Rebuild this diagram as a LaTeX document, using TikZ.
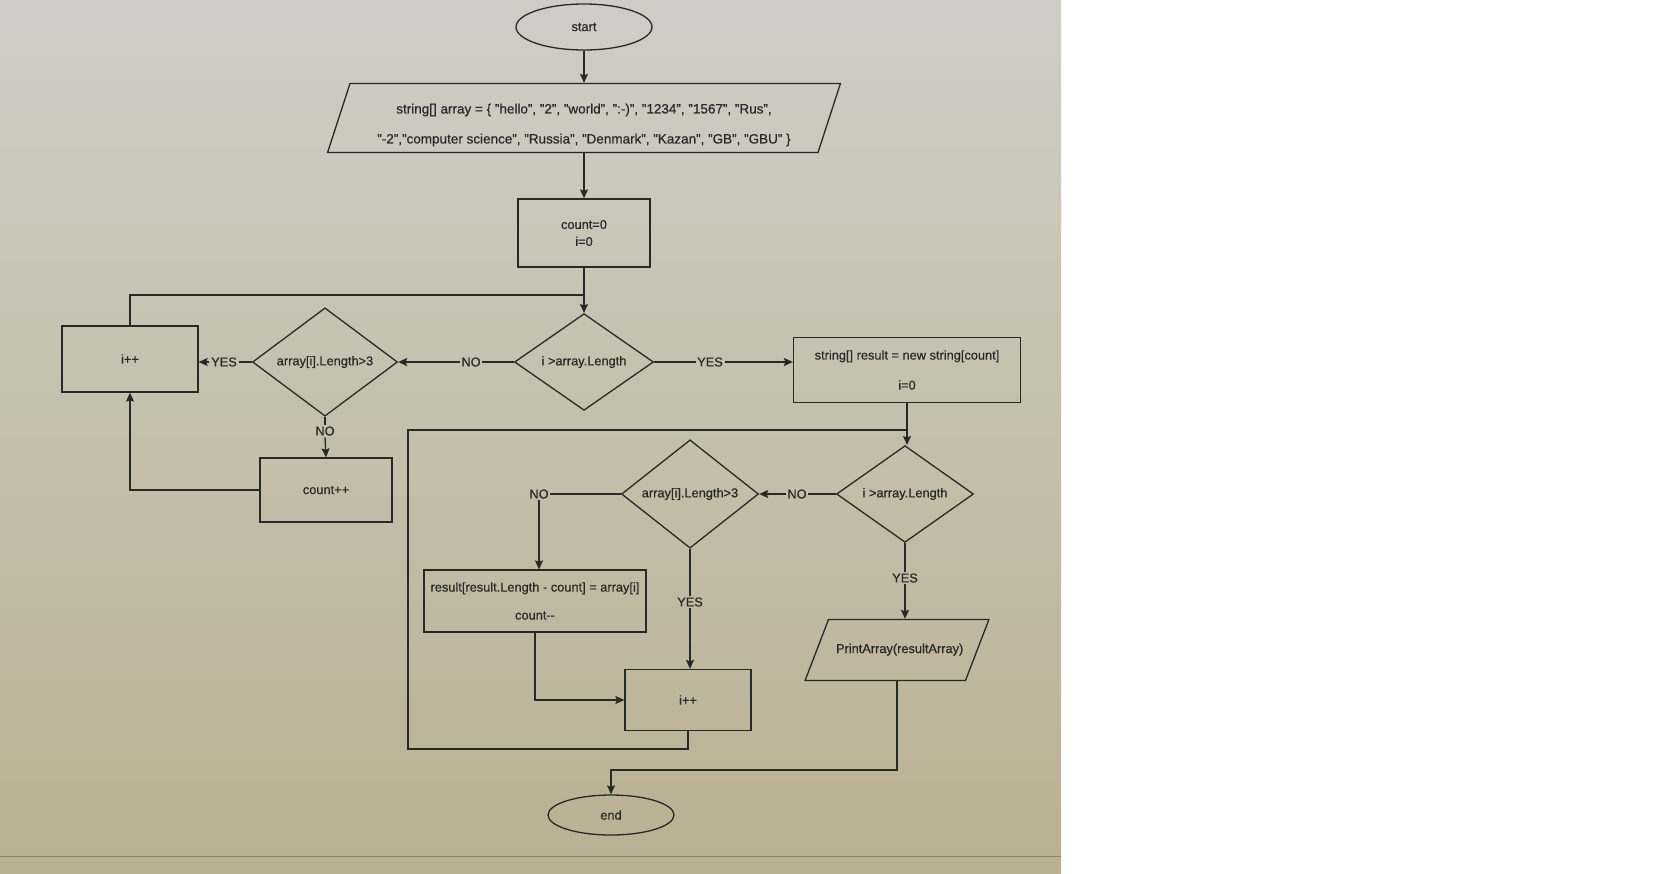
\documentclass[tikz,border=0pt]{standalone}
\usepackage{fontspec}
\setmainfont{Liberation Sans}[FakeBold=0.5]
\usetikzlibrary{shapes.geometric,arrows.meta}

\definecolor{ink}{RGB}{40,40,38}
\definecolor{paperA}{RGB}{207,206,198}
\definecolor{paperM}{RGB}{214,208,188}
\definecolor{paperB}{RGB}{186,176,146}

\begin{document}
\begin{tikzpicture}[x=1pt,y=1pt,
  every node/.style={inner sep=0pt,text=ink,font=\fontsize{12.8}{15}\selectfont},
  line/.style={draw=ink,line width=1.3pt},
  arr/.style={line,-{Stealth[length=9pt,width=8pt,inset=1.5pt]}},
  stepbox/.style={line,rectangle,align=center},
  cond/.style={line,diamond},
  term/.style={line,ellipse},
  io/.style={line,trapezium,align=center},
  lbl/.style={inner sep=1.5pt}]
\useasboundingbox (0,0) rectangle (1669,-873);
\fill[white] (0,0) rectangle (1669,-873);
\shade[top color=paperA,middle color=paperM,bottom color=paperB] (0,0) rectangle (1061,-873);
\draw[paperB!75!black,line width=0.6pt] (0,-856) -- (1061,-856);

\node[term,minimum width=136,minimum height=46] (start) at (584,-27) {start};
\node[io,trapezium left angle=72,trapezium right angle=108,inner xsep=234,inner ysep=34.5] (init) at (584,-118) {};
\node[font=\fontsize{13.5}{30}\selectfont,align=center] (initText) at (584,-125)
  {string[] array = \{ "hello", "2", "world", ":-)", "1234", "1567", "Rus",\\
   "-2","computer science", "Russia", "Denmark", "Kazan", "GB", "GBU" \}};
\node[stepbox,minimum width=132,minimum height=68,font=\fontsize{12.8}{17}\selectfont] (cnt0) at (584,-233) {count=0\\i=0};
\node[cond,minimum width=139,minimum height=85] (chk1) at (584,-362) {i >array.Length};
\node[stepbox,minimum width=227,minimum height=65,font=\fontsize{12.8}{30}\selectfont] (res) at (907,-370)
  {string[] result = new string[count]\\i=0};
\node[cond,minimum width=145,minimum height=87] (len1) at (325,-362) {array[i].Length>3};
\node[stepbox,minimum width=136,minimum height=66] (inc1) at (130,-359) {i++};
\node[stepbox,minimum width=132,minimum height=64] (cntup) at (326,-490) {count++};

\node[cond,minimum width=137,minimum height=83] (chk2) at (905,-494) {i >array.Length};
\node[cond,minimum width=137,minimum height=83] (len2) at (690,-494) {array[i].Length>3};
\node[stepbox,minimum width=222,minimum height=62,font=\fontsize{12.8}{28}\selectfont] (copy) at (535,-601)
  {result[result.Length - count] = array[i]\\count-{}-};
\node[stepbox,minimum width=126,minimum height=61] (inc2) at (688,-700) {i++};
\node[io,trapezium left angle=69,trapezium right angle=111,text width=122,text height=9,text depth=3,
  inner xsep=7.5,inner ysep=24.5] (out) at (897,-650) {PrintArray(resultArray)};
\node[term,minimum width=126,minimum height=40] (fin) at (611,-815) {end};

\node[lbl] (no1) at (471,-362) {NO};
\node[lbl] (yes1) at (710,-362) {YES};
\node[lbl] (yes2) at (224,-362) {YES};
\node[lbl] (no2) at (325,-431) {NO};
\node[lbl] (no3) at (797,-494) {NO};
\node[lbl] (no4) at (539,-494) {NO};
\node[lbl] (yes3) at (690,-602) {YES};
\node[lbl] (yes4) at (905,-578) {YES};

\coordinate (join1) at (584,-295);
\coordinate (join2) at (907,-430);
\coordinate (loop2) at (408,-749);
\coordinate (bend) at (611,-770);

\draw[arr] (start) -- (init);
\draw[arr] (init) -- (cnt0);
\draw[arr] (cnt0) -- (chk1);
\draw[line] (inc1.north) |- (join1);
\draw[line] (chk1.west) -- (no1.east);
\draw[arr] (no1.west) -- (len1.east);
\draw[line] (chk1.east) -- (yes1.west);
\draw[arr] (yes1.east) -- (yes1.east -| res.west);
\draw[line] (len1.west) -- (yes2.east);
\draw[arr] (yes2.west) -- (yes2.west -| inc1.east);
\draw[line] (len1.south) -- (no2.north);
\draw[arr] (no2.south) -- (cntup.north);
\draw[arr] (cntup.west) -| (inc1.south);

\draw[arr] (res.south) -- (res.south |- chk2.north);
\draw[line] (inc2.south) |- (loop2) |- (join2);
\draw[line] (chk2.west) -- (no3.east);
\draw[arr] (no3.west) -- (len2.east);
\draw[line] (len2.west) -- (no4.east);
\draw[arr] (no4.south) -- (no4.south |- copy.north);
\draw[line] (len2.south) -- (yes3.north);
\draw[arr] (yes3.south) -- (yes3.south |- inc2.north);
\draw[arr] (copy.south) |- (inc2.west);
\draw[line] (chk2.south) -- (yes4.north);
\draw[arr] (yes4.south) -- (yes4.south |- out.north);
\draw[arr] (out.south) |- (bend) -- (fin.north);
\end{tikzpicture}
\end{document}
